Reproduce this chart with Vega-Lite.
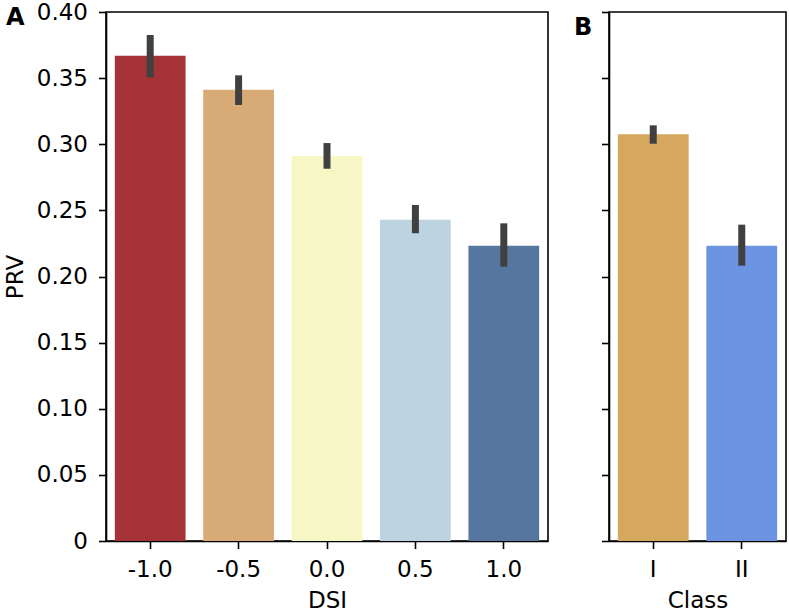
{
  "$schema": "https://vega.github.io/schema/vega-lite/v6.json",
  "padding": {"left": 3, "top": 0, "right": 3, "bottom": 0},
  "background": "white",
  "spacing": 61,
  "bounds": "flush",
  "config": {
    "font": "DejaVu Sans",
    "view": {"stroke": "black", "strokeWidth": 1.6},
    "axis": {
      "domainColor": "black", "domainWidth": 1.6,
      "tickColor": "black", "tickWidth": 1.6, "tickSize": 7.5,
      "labelFont": "DejaVu Sans", "labelFontSize": 23, "labelColor": "black",
      "titleFont": "DejaVu Sans", "titleFontSize": 23, "titleFontWeight": "normal", "titleColor": "black",
      "grid": false
    }
  },
  "hconcat": [
    {
      "width": 442,
      "height": 529,
      "title": {"text": "A", "anchor": "start", "frame": "group", "fontSize": 24, "fontWeight": "bold", "color": "black", "dx": -100, "baseline": "top", "offset": -29},
      "data": {"values": [
        {"DSI": "-1.0", "PRV": 0.367, "lo": 0.3506, "hi": 0.3826},
        {"DSI": "-0.5", "PRV": 0.3413, "lo": 0.3297, "hi": 0.3521},
        {"DSI": "0.0", "PRV": 0.2911, "lo": 0.2815, "hi": 0.3009},
        {"DSI": "0.5", "PRV": 0.243, "lo": 0.2327, "hi": 0.2541},
        {"DSI": "1.0", "PRV": 0.2233, "lo": 0.2074, "hi": 0.2402}
      ]},
      "encoding": {
        "x": {"field": "DSI", "type": "nominal", "sort": ["-1.0", "-0.5", "0.0", "0.5", "1.0"],
              "scale": {"paddingInner": 0.2, "paddingOuter": 0.1},
              "axis": {"labelAngle": 0, "labelPadding": 10, "titlePadding": 8, "title": "DSI"}}
      },
      "layer": [
        {
          "mark": {"type": "bar"},
          "encoding": {
            "y": {"field": "PRV", "type": "quantitative", "scale": {"domain": [0, 0.4]},
                  "axis": {"title": "PRV", "values": [0, 0.05, 0.1, 0.15, 0.2, 0.25, 0.3, 0.35, 0.4],
                           "labelExpr": "datum.value == 0 ? '0' : format(datum.value, '.2f')",
                           "labelPadding": 11, "titlePadding": 9}},
            "color": {"field": "DSI", "type": "nominal", "legend": null,
                      "scale": {"domain": ["-1.0", "-0.5", "0.0", "0.5", "1.0"],
                                "range": ["#A43236", "#D8AA76", "#F7F7C6", "#BDD4E0", "#55779F"]}}
          }
        },
        {
          "mark": {"type": "rule", "strokeWidth": 7, "color": "#404040"},
          "encoding": {
            "y": {"field": "lo", "type": "quantitative"},
            "y2": {"field": "hi"}
          }
        }
      ]
    },
    {
      "width": 177,
      "height": 529,
      "title": {"text": "B", "anchor": "start", "frame": "group", "fontSize": 24, "fontWeight": "bold", "color": "black", "dx": -35, "baseline": "top", "offset": -29},
      "data": {"values": [
        {"Class": "I", "PRV": 0.3075, "lo": 0.3004, "hi": 0.3143},
        {"Class": "II", "PRV": 0.2233, "lo": 0.2082, "hi": 0.2392}
      ]},
      "encoding": {
        "x": {"field": "Class", "type": "nominal", "sort": ["I", "II"],
              "scale": {"paddingInner": 0.2, "paddingOuter": 0.1},
              "axis": {"labelAngle": 0, "labelPadding": 10, "titlePadding": 8, "title": "Class"}}
      },
      "layer": [
        {
          "mark": {"type": "bar"},
          "encoding": {
            "y": {"field": "PRV", "type": "quantitative", "scale": {"domain": [0, 0.4]},
                  "axis": {"title": null, "labels": false, "values": [0, 0.05, 0.1, 0.15, 0.2, 0.25, 0.3, 0.35, 0.4]}},
            "color": {"field": "Class", "type": "nominal", "legend": null,
                      "scale": {"domain": ["I", "II"], "range": ["#D6A75E", "#6D94E2"]}}
          }
        },
        {
          "mark": {"type": "rule", "strokeWidth": 7, "color": "#404040"},
          "encoding": {
            "y": {"field": "lo", "type": "quantitative"},
            "y2": {"field": "hi"}
          }
        }
      ]
    }
  ],
  "resolve": {"scale": {"color": "independent", "y": "independent"}}
}
